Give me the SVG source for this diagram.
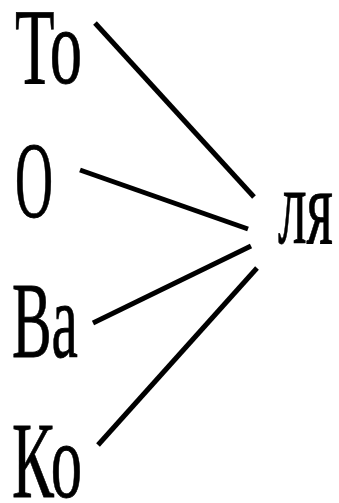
<svg xmlns="http://www.w3.org/2000/svg" width="339" height="503" viewBox="0 0 339 503">
<style>
.t{font-family:"Liberation Serif","Times New Roman",serif;font-size:107px;fill:#000;stroke:#000;stroke-width:0.8}
.c line{stroke:#000;stroke-width:5;stroke-linecap:butt}
</style>
<rect width="339" height="503" fill="#fff"/>
<g id="node-to"><text class="t" x="15" y="83" textLength="67" lengthAdjust="spacingAndGlyphs">То</text></g>
<g id="node-o"><text class="t" x="15" y="217" textLength="38" lengthAdjust="spacingAndGlyphs">О</text></g>
<g id="node-va"><text class="t" x="12" y="357" textLength="66" lengthAdjust="spacingAndGlyphs">Ва</text></g>
<g id="node-ko"><text class="t" x="12" y="497" textLength="70" lengthAdjust="spacingAndGlyphs">Ко</text></g>
<g id="node-lya"><text class="t" x="278" y="243" textLength="55" lengthAdjust="spacingAndGlyphs">ля</text></g>
<g id="connectors" class="c">
<line x1="95" y1="23" x2="254" y2="197"/>
<line x1="80" y1="170" x2="248" y2="229"/>
<line x1="93" y1="323" x2="251" y2="246"/>
<line x1="98" y1="445" x2="257" y2="268"/>
</g>
</svg>
